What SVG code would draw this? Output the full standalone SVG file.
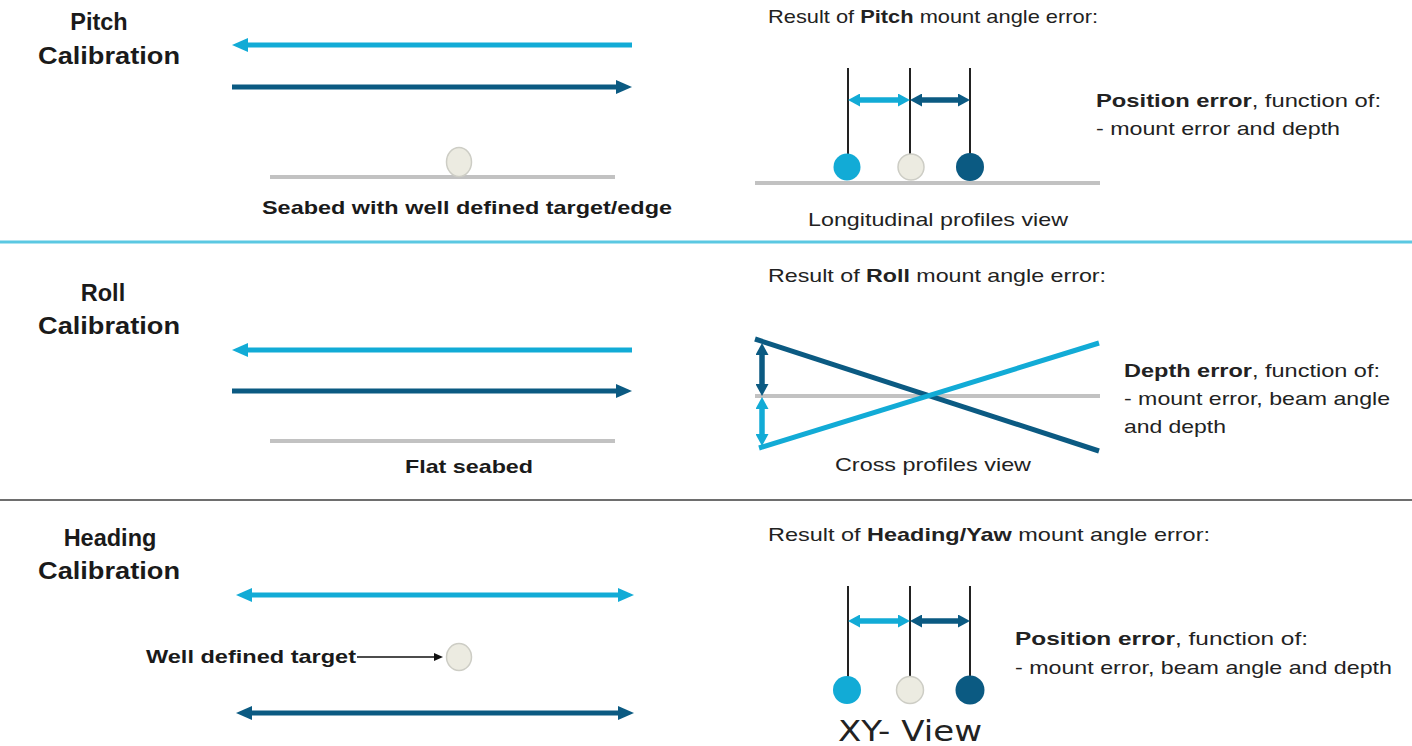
<svg xmlns="http://www.w3.org/2000/svg" width="1412" height="746" viewBox="0 0 1412 746">
<style>
.title{font-family:"Liberation Sans",Arial,sans-serif;font-weight:bold;font-size:23.5px;fill:#1a1a1a;text-anchor:middle}
.lbl{font-family:"Liberation Sans",Arial,sans-serif;font-weight:bold;font-size:18.5px;fill:#1a1a1a}
.txt{font-family:"Liberation Sans",Arial,sans-serif;font-size:18.5px;fill:#222}
.b{font-weight:bold}
.cy{stroke:#12ABD6;fill:none}
.dk{stroke:#0B5A82;fill:none}
.main{stroke-width:5}
.sm{stroke-width:5.5}
.seabed{stroke:#C2C2C2;stroke-width:4}
.vline{stroke:#222;stroke-width:2}
.tgt{fill:#ECEBE1;stroke:#CDCDC5;stroke-width:1.5}
.bc{fill:#12ABD6}
.bd{fill:#0B5A82}
</style>
<defs>
<marker id="hC" viewBox="0 0 16 14" refX="4" refY="7" markerWidth="16" markerHeight="14" markerUnits="userSpaceOnUse" orient="auto-start-reverse"><path d="M0,0 L16,7 L0,14 z" fill="#12ABD6"/></marker>
<marker id="hD" viewBox="0 0 16 14" refX="4" refY="7" markerWidth="16" markerHeight="14" markerUnits="userSpaceOnUse" orient="auto-start-reverse"><path d="M0,0 L16,7 L0,14 z" fill="#0B5A82"/></marker>
<marker id="sC" viewBox="0 0 12 13" refX="3" refY="6.5" markerWidth="12" markerHeight="13" markerUnits="userSpaceOnUse" orient="auto-start-reverse"><path d="M0,0 L12,6.5 L0,13 z" fill="#12ABD6"/></marker>
<marker id="sD" viewBox="0 0 12 13" refX="3" refY="6.5" markerWidth="12" markerHeight="13" markerUnits="userSpaceOnUse" orient="auto-start-reverse"><path d="M0,0 L12,6.5 L0,13 z" fill="#0B5A82"/></marker>
<marker id="hK" viewBox="0 0 9 8" refX="2" refY="4" markerWidth="9" markerHeight="8" markerUnits="userSpaceOnUse" orient="auto"><path d="M0,0 L9,4 L0,8 z" fill="#111"/></marker>
</defs>
<rect width="1412" height="746" fill="#fff"/>

<g id="separators">
<line x1="0" y1="242" x2="1412" y2="242" stroke="#5BC8E2" stroke-width="3"/>
<line x1="0" y1="500" x2="1412" y2="500" stroke="#6E6E6E" stroke-width="2"/>
</g>

<g id="pitch-title">
<text class="title" x="99" y="30">Pitch</text>
<text class="title" x="109" y="64" textLength="142" lengthAdjust="spacingAndGlyphs">Calibration</text>
</g>
<g id="pitch-seabed">
<line class="seabed" x1="270" y1="177" x2="615" y2="177"/>
<ellipse class="tgt" cx="459" cy="162" rx="12.5" ry="14.5"/>
<text class="lbl" x="467" y="214" text-anchor="middle" textLength="410" lengthAdjust="spacingAndGlyphs">Seabed with well defined target/edge</text>
</g>
<g id="pitch-result">
<text class="txt" x="768" y="23" textLength="330" lengthAdjust="spacingAndGlyphs">Result of <tspan class="b">Pitch</tspan> mount angle error:</text>
<line class="seabed" x1="755" y1="183" x2="1100" y2="183"/>
<line class="vline" x1="848" y1="68" x2="848" y2="160"/>
<line class="vline" x1="910" y1="68" x2="910" y2="160"/>
<line class="vline" x1="970" y1="68" x2="970" y2="160"/>
<circle class="bc" cx="847" cy="167" r="13.5"/>
<circle class="tgt" cx="911" cy="167" r="13"/>
<circle class="bd" cx="970" cy="167" r="14"/>
<text class="txt" x="938" y="226" text-anchor="middle" textLength="260" lengthAdjust="spacingAndGlyphs">Longitudinal profiles view</text>
</g>
<g id="pitch-error">
<text class="txt" x="1096" y="107" textLength="285" lengthAdjust="spacingAndGlyphs"><tspan class="b">Position error</tspan>, function of:</text>
<text class="txt" x="1096" y="135" textLength="244" lengthAdjust="spacingAndGlyphs">- mount error and depth</text>
</g>

<g id="roll-title">
<text class="title" x="103" y="301">Roll</text>
<text class="title" x="109" y="334" textLength="142" lengthAdjust="spacingAndGlyphs">Calibration</text>
</g>
<g id="roll-seabed">
<line class="seabed" x1="270" y1="441" x2="615" y2="441"/>
<text class="lbl" x="469" y="473" text-anchor="middle" textLength="128" lengthAdjust="spacingAndGlyphs">Flat seabed</text>
</g>
<g id="roll-result">
<text class="txt" x="768" y="282" textLength="338" lengthAdjust="spacingAndGlyphs">Result of <tspan class="b">Roll</tspan> mount angle error:</text>
<line class="seabed" x1="755" y1="396" x2="1100" y2="396"/>
<line class="dk main" x1="755" y1="339" x2="1099" y2="451"/>
<line class="cy main" x1="759" y1="448" x2="1099" y2="343"/>
<text class="txt" x="933" y="471" text-anchor="middle" textLength="196" lengthAdjust="spacingAndGlyphs">Cross profiles view</text>
</g>
<g id="roll-error">
<text class="txt" x="1124" y="377" textLength="256" lengthAdjust="spacingAndGlyphs"><tspan class="b">Depth error</tspan>, function of:</text>
<text class="txt" x="1124" y="405" textLength="266" lengthAdjust="spacingAndGlyphs">- mount error, beam angle</text>
<text class="txt" x="1124" y="433" textLength="102" lengthAdjust="spacingAndGlyphs">and depth</text>
</g>

<g id="heading-title">
<text class="title" x="110" y="546">Heading</text>
<text class="title" x="109" y="579" textLength="142" lengthAdjust="spacingAndGlyphs">Calibration</text>
</g>
<g id="heading-target">
<text class="lbl" x="146" y="663" textLength="210" lengthAdjust="spacingAndGlyphs">Well defined target</text>
<ellipse class="tgt" cx="459" cy="657" rx="12.5" ry="13.5"/>
</g>
<g id="heading-result">
<text class="txt" x="768" y="541" textLength="442" lengthAdjust="spacingAndGlyphs">Result of <tspan class="b">Heading/Yaw</tspan> mount angle error:</text>
<line class="vline" x1="848" y1="586" x2="848" y2="682"/>
<line class="vline" x1="910" y1="586" x2="910" y2="682"/>
<line class="vline" x1="970" y1="586" x2="970" y2="682"/>
<circle class="bc" cx="847" cy="690" r="14"/>
<circle class="tgt" cx="910" cy="690" r="13.5"/>
<circle class="bd" cx="970" cy="690" r="14.5"/>
<text x="910" y="741" text-anchor="middle" font-family="'DejaVu Sans',Verdana,sans-serif" font-size="29" fill="#222" textLength="144" lengthAdjust="spacingAndGlyphs">XY- View</text>
</g>
<g id="heading-error">
<text class="txt" x="1015" y="645" textLength="293" lengthAdjust="spacingAndGlyphs"><tspan class="b">Position error</tspan>, function of:</text>
<text class="txt" x="1015" y="674" textLength="377" lengthAdjust="spacingAndGlyphs">- mount error, beam angle and depth</text>
</g>

<g id="connectors">
<line class="cy main" x1="632" y1="45" x2="244" y2="45" marker-end="url(#hC)"/>
<line class="dk main" x1="232" y1="87" x2="620" y2="87" marker-end="url(#hD)"/>
<line class="cy sm" x1="857" y1="100" x2="901" y2="100" marker-start="url(#sC)" marker-end="url(#sC)"/>
<line class="dk sm" x1="919" y1="100" x2="961" y2="100" marker-start="url(#sD)" marker-end="url(#sD)"/>

<line class="cy main" x1="632" y1="350" x2="244" y2="350" marker-end="url(#hC)"/>
<line class="dk main" x1="232" y1="391" x2="620" y2="391" marker-end="url(#hD)"/>
<line class="dk sm" x1="762" y1="352" x2="762" y2="387" marker-start="url(#sD)" marker-end="url(#sD)"/>
<line class="cy sm" x1="762" y1="406" x2="762" y2="437" marker-start="url(#sC)" marker-end="url(#sC)"/>

<line class="cy main" x1="248" y1="595" x2="622" y2="595" marker-start="url(#hC)" marker-end="url(#hC)"/>
<line class="dk main" x1="248" y1="713" x2="622" y2="713" marker-start="url(#hD)" marker-end="url(#hD)"/>
<line x1="357" y1="657" x2="436" y2="657" stroke="#111" stroke-width="1.3" marker-end="url(#hK)"/>
<line class="cy sm" x1="857" y1="621" x2="901" y2="621" marker-start="url(#sC)" marker-end="url(#sC)"/>
<line class="dk sm" x1="919" y1="621" x2="961" y2="621" marker-start="url(#sD)" marker-end="url(#sD)"/>
</g>
</svg>
